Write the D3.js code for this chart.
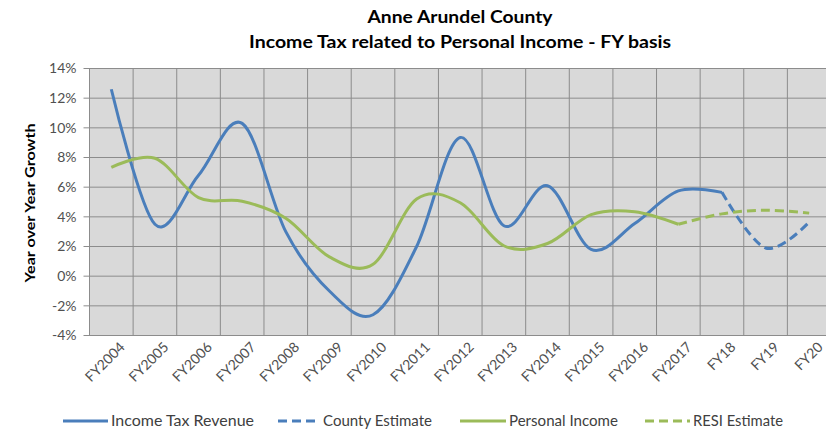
<!DOCTYPE html>
<html>
<head>
<meta charset="utf-8">
<script src="https://cdn.jsdelivr.net/npm/d3@7"></script>
<style>
    body { margin: 0; background: #fff; }
    svg { display: block; font-family: Lato, 'Open Sans', sans-serif; }
    .grid line { stroke: #8c8c8c; stroke-width: 1; }
    .axis-y text, .axis-x text { fill: #505050; font-size: 14px; }
    .legend text { fill: #404040; font-size: 15px; }
</style>
</head>
<body>
<div class="line-chart"><svg></svg></div>
<script>
const years = ['FY2004', 'FY2005', 'FY2006', 'FY2007', 'FY2008', 'FY2009', 'FY2010', 'FY2011',
    'FY2012', 'FY2013', 'FY2014', 'FY2015', 'FY2016', 'FY2017', 'FY18', 'FY19', 'FY20'];

// FY2004 .. FY18
const incomeTax = [12.6, 3.5, 6.8, 10.3, 3.0, -1.0, -2.6, 2.0, 9.35, 3.4, 6.1, 1.8, 3.55, 5.75, 5.65];
// FY18 .. FY20
const countyEstimate = [5.65, 1.9, 3.65];
// FY2004 .. FY2017
const personalIncome = [7.33, 7.95, 5.3, 5.05, 3.9, 1.3, 0.8, 5.2, 4.95, 2.05, 2.2, 4.15, 4.35, 3.5];
// FY2017 .. FY20
const resiEstimate = [3.5, 4.2, 4.45, 4.25];

const yTicks = [-4, -2, 0, 2, 4, 6, 8, 10, 12, 14];

const series = [
    { name: 'Income Tax Revenue', start: 0, values: incomeTax, color: '#4a7ebb', dash: null },
    { name: 'County Estimate', start: 14, values: countyEstimate, color: '#4a7ebb', dash: '9,5' },
    { name: 'Personal Income', start: 0, values: personalIncome, color: '#9bbb59', dash: null },
    { name: 'RESI Estimate', start: 13, values: resiEstimate, color: '#9bbb59', dash: '9,5' }
];

const w = 826;
const h = 430;
const margin = { top: 68.5, right: -5, bottom: 94.5, left: 89.5 };
const width = w - margin.left - margin.right;
const height = h - margin.top - margin.bottom;

const svg = d3.select('svg').attr('width', w).attr('height', h);

const x = d3.scaleBand().domain(years).range([0, width]);
const y = d3.scaleLinear().domain([-4, 14]).range([height, 0]);

const g = svg.append('g').attr('transform', `translate(${margin.left},${margin.top})`);

g.append('rect')
    .attr('width', width)
    .attr('height', height)
    .attr('fill', '#d9d9d9');

// grid
const grid = g.append('g').attr('class', 'grid');

grid.selectAll('.h')
    .data(yTicks)
    .enter()
    .append('line')
    .attr('x1', -6)
    .attr('x2', width)
    .attr('y1', (d) => y(d))
    .attr('y2', (d) => y(d));

grid.selectAll('.v')
    .data(years.concat(['end']))
    .enter()
    .append('line')
    .attr('x1', (d, i) => i * x.bandwidth())
    .attr('x2', (d, i) => i * x.bandwidth())
    .attr('y1', 0)
    .attr('y2', height);

// y axis labels
g.append('g')
    .attr('class', 'axis-y')
    .selectAll('text')
    .data(yTicks)
    .enter()
    .append('text')
    .attr('x', -13)
    .attr('y', (d) => y(d))
    .attr('dy', '0.35em')
    .attr('text-anchor', 'end')
    .text((d) => `${d}%`);

// x axis labels
g.append('g')
    .attr('class', 'axis-x')
    .selectAll('text')
    .data(years)
    .enter()
    .append('text')
    .attr('text-anchor', 'end')
    .attr('transform', (d) => `translate(${x(d) + x.bandwidth() / 2 + 11},${height + 9}) rotate(-45)`)
    .attr('dy', '0.35em')
    .text((d) => d);

// lines
const line = d3
    .line()
    .x((d) => x(d.year) + x.bandwidth() / 2)
    .y((d) => y(d.value))
    .curve(d3.curveCardinal.tension(0));

const lines = g.append('g').attr('class', 'lines');

series.forEach((s) => {
    const pts = s.values.map((v, i) => ({ year: years[s.start + i], value: v }));
    lines.append('path')
        .datum(pts)
        .attr('fill', 'none')
        .attr('stroke', s.color)
        .attr('stroke-width', 3)
        .attr('stroke-dasharray', s.dash)
        .attr('d', line);
});

// titles
svg.append('text')
    .attr('x', 460)
    .attr('y', 23)
    .attr('text-anchor', 'middle')
    .attr('font-weight', 'bold')
    .attr('font-size', 16.5)
    .attr('fill', '#000')
    .attr('textLength', 185)
    .attr('lengthAdjust', 'spacingAndGlyphs')
    .text('Anne Arundel County');

svg.append('text')
    .attr('x', 460)
    .attr('y', 48)
    .attr('text-anchor', 'middle')
    .attr('font-weight', 'bold')
    .attr('font-size', 16.5)
    .attr('fill', '#000')
    .attr('textLength', 422)
    .attr('lengthAdjust', 'spacingAndGlyphs')
    .text('Income Tax related to Personal Income - FY basis');

svg.append('text')
    .attr('transform', 'translate(35,203) rotate(-90)')
    .attr('text-anchor', 'middle')
    .attr('font-weight', 'bold')
    .attr('font-size', 13.5)
    .attr('fill', '#000')
    .attr('textLength', 159)
    .attr('lengthAdjust', 'spacingAndGlyphs')
    .text('Year over Year Growth');

// legend
const legendItems = [
    { s: series[0], x1: 63, x2: 108, len: 143 },
    { s: series[1], x1: 278, x2: 320, len: 109 },
    { s: series[2], x1: 460, x2: 506, len: 109 },
    { s: series[3], x1: 645, x2: 690, len: 90 }
];

const legend = svg.append('g').attr('class', 'legend');

legendItems.forEach((d) => {
    legend.append('line')
        .attr('x1', d.x1)
        .attr('x2', d.x2)
        .attr('y1', 421)
        .attr('y2', 421)
        .attr('stroke', d.s.color)
        .attr('stroke-width', 3)
        .attr('stroke-dasharray', d.s.dash);
    legend.append('text')
        .attr('x', d.x2 + 3)
        .attr('y', 421)
        .attr('dy', '0.35em')
        .attr('textLength', d.len)
        .attr('lengthAdjust', 'spacingAndGlyphs')
        .text(d.s.name);
});
</script>
</body>
</html>
